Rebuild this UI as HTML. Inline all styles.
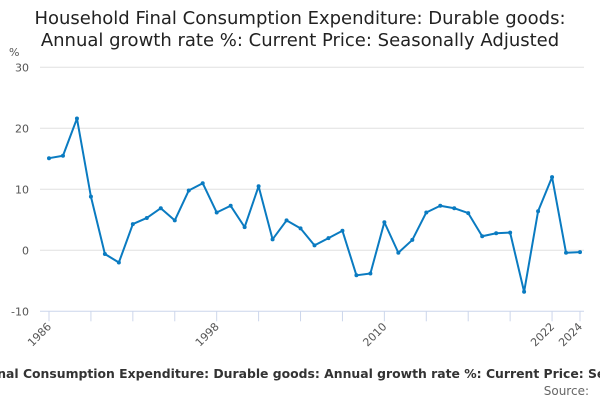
<!DOCTYPE html>
<html><head><meta charset="utf-8"><style>
body{margin:0;background:#fff;width:600px;height:400px;overflow:hidden;font-family:"Liberation Sans","DejaVu Sans",sans-serif}
svg text{font-family:"DejaVu Sans","Liberation Sans",sans-serif}
</style></head><body>
<svg id="c" width="600" height="400">
<text x="300" y="24" text-anchor="middle" font-size="18" fill="#222">Household Final Consumption Expenditure: Durable goods:</text>
<text x="300" y="46" text-anchor="middle" font-size="18" fill="#222">Annual growth rate %: Current Price: Seasonally Adjusted</text>
<text x="9" y="56" font-size="11" fill="#555">%</text>
<g id="grid"></g><g id="xax"></g><g id="series"></g>
<text x="318" y="378" text-anchor="middle" font-size="12.4" font-weight="bold" fill="#333">Household Final Consumption Expenditure: Durable goods: Annual growth rate %: Current Price: Seasonally Adjusted</text>
<text x="589" y="395" text-anchor="end" font-size="12" fill="#666">Source:</text>
</svg>
<script>
const years=[1986,1987,1988,1989,1990,1991,1992,1993,1994,1995,1996,1997,1998,1999,2000,2001,2002,2003,2004,2005,2006,2007,2008,2009,2010,2011,2012,2013,2014,2015,2016,2017,2018,2019,2020,2021,2022,2023,2024];
const values=[15.1,15.5,21.6,8.8,-0.6,-2.0,4.3,5.3,6.9,4.9,9.8,11.0,6.2,7.3,3.8,10.5,1.8,4.9,3.6,0.8,2.0,3.2,-4.1,-3.8,4.6,-0.4,1.7,6.2,7.3,6.9,6.1,2.3,2.8,2.9,-6.8,6.4,12.0,-0.4,-0.3];
const yTicks=[-10,0,10,20,30];
const xLabels=[1986,1998,2010,2022,2024];
const NS="http://www.w3.org/2000/svg";
const x=v=>49+(v-1986)*(531/38);
const y=v=>250.3-v*6.1;
function mk(t,a,p){const e=document.createElementNS(NS,t);for(const k in a)e.setAttribute(k,a[k]);p.appendChild(e);return e;}
const g=document.getElementById('grid');
yTicks.forEach(t=>{
 if(t!==-10){const l=mk('line',{x1:40,x2:584,y1:y(t),y2:y(t),stroke:'#e0e0e0','stroke-width':1},g);
 
 }
 const tx=mk('text',{x:29,y:y(t)+4,'text-anchor':'end','font-size':11,fill:'#555'},g);tx.textContent=t;
 
 
});
const xa=document.getElementById('xax');
const ax=mk('line',{x1:40,x2:584,y1:y(-10),y2:y(-10),stroke:'#ccd6eb','stroke-width':1},xa);


years.forEach(yr=>{
 if((yr-1986)%3===0||yr===2024){const t=mk('line',{x1:x(yr),x2:x(yr),y1:y(-10),y2:y(-10)+10,stroke:'#ccd6eb'},xa);
 
 }
});
xLabels.forEach(yr=>{
 const t=mk('text',{x:x(yr)+3,y:y(-10)+16,'text-anchor':'end','font-size':11,fill:'#555',transform:`rotate(-45 ${x(yr)+3} ${y(-10)+16})`},xa);t.textContent=yr;
 
 
});
const s=document.getElementById('series');
const p=mk('polyline',{points:years.map((yr,i)=>x(yr)+','+y(values[i])).join(' '),fill:'none',stroke:'#0a7bc1','stroke-width':2,'stroke-linejoin':'round'},s);


years.forEach((yr,i)=>{const c=mk('circle',{cx:x(yr),cy:y(values[i]),r:2,fill:'#0a7bc1'},s);
 
 });
</script>
</body></html>
